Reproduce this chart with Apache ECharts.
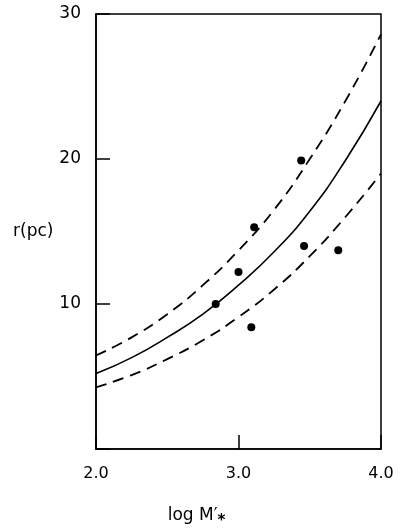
<!DOCTYPE html>
<html>
<head>
<meta charset="utf-8">
<script src="https://cdn.jsdelivr.net/npm/echarts@6/dist/echarts.min.js"></script>
<style>
    html, body { margin: 0; padding: 0; background: #fff; }
    #chart { width: 401px; height: 529px; }
</style>
</head>
<body>
<div id="chart"></div>
<script>
// observed clusters
var pointsX = [2.84, 3.00, 3.09, 3.11, 3.44, 3.46, 3.70];
var pointsY = [10.0, 12.2, 8.4, 15.3, 19.9, 14.0, 13.7];

// model curves
var curveX = [2.0, 2.25, 2.5, 2.75, 3.0, 3.25, 3.5, 3.75, 4.0];
var upperR = [6.45, 7.7, 9.3, 11.3, 13.7, 16.5, 20.0, 24.0, 28.6];
var middleR = [5.2, 6.3, 7.7, 9.3, 11.3, 13.6, 16.4, 19.9, 24.0];
var lowerR = [4.25, 5.1, 6.2, 7.5, 9.1, 11.0, 13.3, 16.0, 19.0];

var xTicks = [2.0, 3.0, 4.0];
var yTicks = [10, 20, 30];

var ink = '#000';
var font = 'DejaVu Sans';

function pairs(xs, ys) {
    var out = [];
    for (var i = 0; i < xs.length; i++) {
        out.push([xs[i], ys[i]]);
    }
    return out;
}

function curve(ys, dashed) {
    return {
        type: 'line',
        data: pairs(curveX, ys),
        smooth: true,
        showSymbol: false,
        silent: true,
        lineStyle: {
            color: ink,
            width: dashed ? 1.8 : 1.6,
            type: dashed ? [11, 7] : 'solid'
        },
        z: 2
    };
}

var chart = echarts.init(document.getElementById('chart'), null, { renderer: 'canvas' });
chart.setOption({
    animation: false,
    backgroundColor: '#fff',
    grid: {
        left: 96, right: 20, top: 14, bottom: 80,
        outerBoundsMode: 'none',
        containLabel: false,
        show: true,
        borderColor: ink,
        borderWidth: 1.5
    },
    xAxis: {
        type: 'value',
        min: 2, max: 4, interval: 1,
        name: '{a|log M′}{s|*}',
        nameLocation: 'middle',
        nameGap: 53,
        nameTextStyle: {
            padding: [0, 84, 0, 0],
            rich: {
                a: { fontFamily: font, fontSize: 17, color: ink },
                s: { fontFamily: font, fontSize: 15, color: ink, fontWeight: 'bold', padding: [12, 0, 0, 0] }
            }
        },
        axisLine: { lineStyle: { color: ink, width: 1.5 } },
        axisTick: { inside: true, length: 14, lineStyle: { color: ink, width: 1.5 } },
        axisLabel: {
            margin: 17,
            fontFamily: font,
            fontSize: 16,
            color: ink,
            formatter: function (v) { return xTicks.indexOf(v) >= 0 ? v.toFixed(1) : ''; }
        },
        splitLine: { show: false }
    },
    yAxis: {
        type: 'value',
        min: 0, max: 30, interval: 10,
        name: 'r(pc)',
        nameLocation: 'middle',
        nameRotate: 0,
        nameGap: 38,
        nameTextStyle: { fontFamily: font, fontSize: 17, color: ink },
        axisLine: { lineStyle: { color: ink, width: 1.5 } },
        axisTick: { inside: true, length: 14, lineStyle: { color: ink, width: 1.5 } },
        axisLabel: {
            margin: 15,
            fontFamily: font,
            fontSize: 17,
            color: ink,
            formatter: function (v) { return yTicks.indexOf(v) >= 0 ? String(v) : ''; }
        },
        splitLine: { show: false }
    },
    series: [
        curve(upperR, true),
        curve(middleR, false),
        curve(lowerR, true),
        {
            type: 'scatter',
            data: pairs(pointsX, pointsY),
            symbol: 'circle',
            symbolSize: 8,
            itemStyle: { color: ink, opacity: 1 },
            z: 3
        }
    ]
});
</script>
</body>
</html>
